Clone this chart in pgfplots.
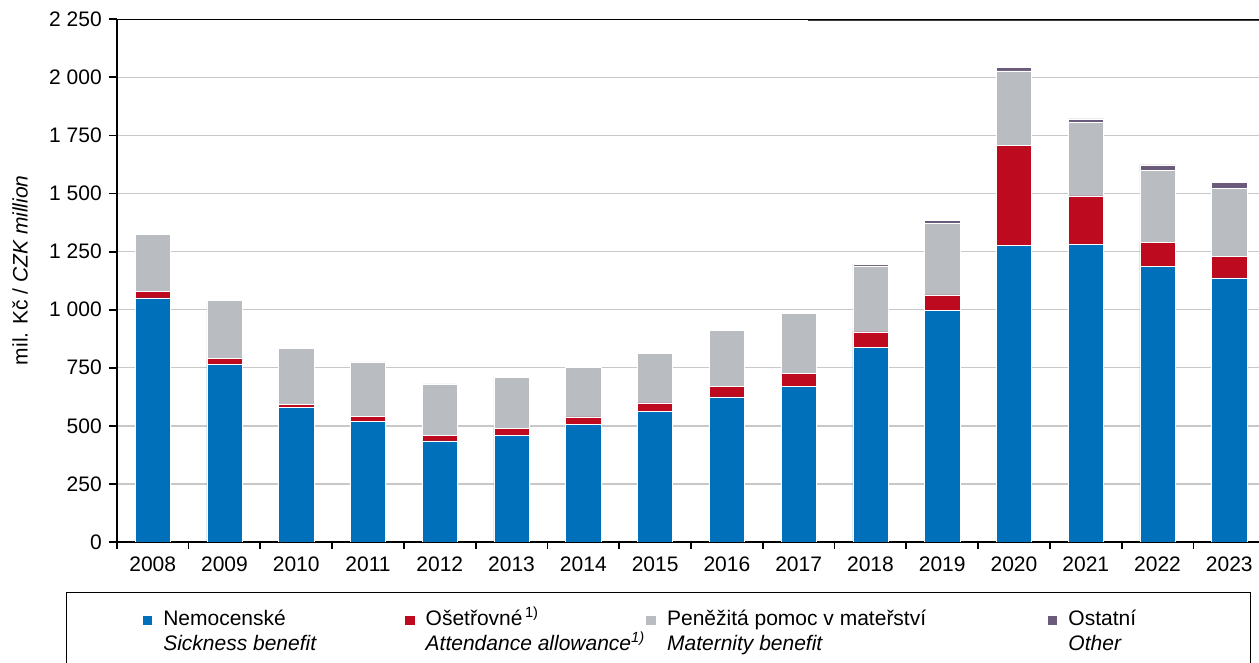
\documentclass[border=0pt]{standalone}
\usepackage{fontspec}
\setmainfont{Liberation Sans}
\usepackage{pgfplots}
\usepackage{pgfplotstable}
\pgfplotsset{compat=1.18}
\definecolor{cblue}{RGB}{0,112,186}
\definecolor{cred}{RGB}{190,10,30}
\definecolor{cgray}{RGB}{185,188,192}
\definecolor{cpurple}{RGB}{107,91,123}
\definecolor{cgrid}{RGB}{200,200,200}
\pgfplotstableread{
x year blue red gray other
0 2008 1051 29 244 0
1 2009 766 24 250 0
2 2010 578 16 241 0
3 2011 519 22 234 0
4 2012 435 25 221 0
5 2013 459 31 220 0
6 2014 505 34 214 0
7 2015 561 38 214 0
8 2016 625 46 241 0
9 2017 671 56 257 0
10 2018 839 66 284 7
11 2019 998 66 309 13
12 2020 1276 432 320 15
13 2021 1281 209 317 14
14 2022 1185 104 310 24
15 2023 1137 94 292 25
}\datatable
\newcommand{\lent}[3]{\hspace*{5.3pt}\makebox[#1][l]{\vtop{\baselineskip=12.5pt\lineskiplimit=-20pt\hbox{#2}\hbox{#3}}}}
\begin{document}
\begin{tikzpicture}[font=\fontsize{10.5}{12.5}\selectfont]
\begin{axis}[
  at={(0,0)}, anchor=south west,
  scale only axis, width=574.2pt, height=261.35pt,
  xmin=-0.5, xmax=15.5, ymin=0, ymax=2250,
  ybar stacked, bar width=17.6pt,
  axis x line*=bottom, axis y line*=left,
  axis line style={black, line width=1pt, -},
  xtick={0,...,15},
  xticklabels={2008,2009,2010,2011,2012,2013,2014,2015,2016,2017,2018,2019,2020,2021,2022,2023},
  major x tick style={draw=none},
  minor xtick={-0.5,0.5,...,15.5},
  minor x tick style={black, line width=0.9pt},
  minor tick length=3.5pt,
  ytick={0,250,...,2250},
  major tick length=4pt,
  y tick style={black, line width=0.9pt},
  tick align=outside,
  tick pos=left,
  ymajorgrids,
  major grid style={cgrid, line width=0.7pt},
  /pgf/number format/assume math mode=true,
  /pgf/number format/1000 sep={\ },
  ylabel={mil. Kč / \textit{CZK million}},
  ylabel style={at={(axis description cs:-0.0843,0.52)}, anchor=center},
  legend columns=4,
  legend image code/.code={\fill[#1] (0pt,0pt) rectangle (5.3pt,5.3pt);},
  legend style={at={(0,0)}, anchor=north west, xshift=-25.4pt, yshift=-24.85pt,
    draw=black, line width=0.6pt, inner xsep=37.5pt, inner ysep=7.4pt,
    column sep=0pt, nodes={inner sep=0pt, text depth=}, cells={anchor=base west},
    font=\fontsize{10.5}{12.5}\selectfont},
  every axis plot/.append style={draw=white, line width=0.25pt},
]
\addplot[fill=cblue] table[x=x, y=blue] {\datatable};
\addlegendentry{\lent{120.35pt}{Nemocenské}{\textit{Sickness benefit}}}
\addplot[fill=cred] table[x=x, y=red] {\datatable};
\addlegendentry{\lent{109.85pt}{Ošetřovné\textsuperscript{\,1)}}{\textit{Attendance allowance\textsuperscript{1)}}}}
\addplot[fill=cgray] table[x=x, y=gray] {\datatable};
\addlegendentry{\lent{189.85pt}{Peněžitá pomoc v mateřství}{\textit{Maternity benefit}}}
\addplot[fill=cpurple] table[x=x, y=other] {\datatable};
\addlegendentry{\lent{53.35pt}{Ostatní}{\textit{Other}}}
\draw[black, line width=0.9pt] (rel axis cs:0,1) -- (rel axis cs:1,1);
\draw[black!75, line width=1.3pt] (axis cs:9.13,2250) -- (rel axis cs:1,1);
\end{axis}
\pgfresetboundingbox
\path[use as bounding box] (-58.4pt,-60.5pt) rectangle (571.1pt,271pt);
\end{tikzpicture}
\end{document}
